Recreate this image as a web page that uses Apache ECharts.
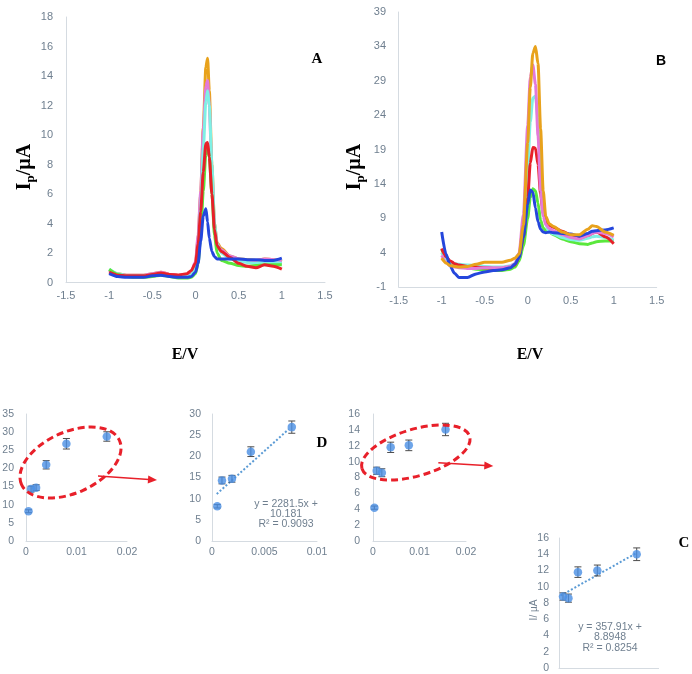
<!DOCTYPE html>
<html><head><meta charset="utf-8">
<script src="https://cdn.jsdelivr.net/npm/echarts@6/dist/echarts.min.js"></script>
<style>html,body{margin:0;padding:0;background:#fff}#c{width:692px;height:674px}</style>
</head><body><div id="c"></div>
<script>
// ---- Panel A (potential V vs current µA)
const aX = [-1,-0.9,-0.8,-0.7,-0.6,-0.5,-0.4,-0.3,-0.2,-0.1,-0.05,0,0.03,0.06,0.09,0.12,0.14,0.16,0.19,0.22,0.25,0.3,0.4,0.5,0.6,0.7,0.8,0.9,1];
const aOrange = [0.8,0.6,0.5,0.5,0.5,0.6,0.7,0.55,0.5,0.55,0.7,1.3,3.0,6.0,10.5,14.6,15.2,13,8,4.0,2.7,2.3,1.8,1.6,1.55,1.5,1.6,1.55,1.4];
const aPink   = [0.8,0.55,0.5,0.5,0.5,0.6,0.7,0.55,0.5,0.55,0.75,1.4,3.2,6.2,10.3,13.3,13.7,12,7.5,3.8,2.6,2.2,1.8,1.6,1.5,1.5,1.6,1.55,1.4];
const aCyan   = [0.9,0.6,0.45,0.45,0.45,0.5,0.55,0.45,0.4,0.4,0.5,1.0,2.4,5,9,12.3,13,12,8,4,2.6,2.0,1.6,1.45,1.35,1.3,1.4,1.35,1.3];
const aGreen  = [0.9,0.55,0.4,0.35,0.35,0.4,0.5,0.4,0.3,0.3,0.35,0.6,1.3,3.2,6.2,8.7,9.2,8.5,6,3.2,2.0,1.5,1.3,1.15,1.1,1.15,1.2,1.2,1.2];
const aRed    = [0.7,0.5,0.45,0.45,0.45,0.55,0.65,0.55,0.5,0.6,0.8,1.3,2.6,4.8,7.5,9.4,9.5,8.5,6,3.6,2.5,2.1,1.7,1.3,1.1,1.0,1.2,1.1,0.9];
const aBlue   = [0.6,0.4,0.35,0.35,0.35,0.45,0.5,0.4,0.35,0.35,0.4,0.7,1.3,2.8,4.5,5.0,4.1,3.0,2.1,1.75,1.6,1.6,1.6,1.6,1.55,1.55,1.5,1.5,1.65];
// ---- Panel B
const bX = [-1,-0.95,-0.9,-0.85,-0.8,-0.7,-0.6,-0.5,-0.4,-0.3,-0.2,-0.15,-0.1,-0.05,0,0.03,0.06,0.09,0.12,0.15,0.18,0.21,0.25,0.3,0.4,0.5,0.6,0.7,0.75,0.8,0.9,1];
const bOrange = [3.2,2.5,2.1,2.0,1.9,2.0,2.3,2.6,2.6,2.6,2.9,3.2,3.8,8,20,28,33,34,31.5,22,13,9.3,8.2,7.8,7.0,6.6,6.6,7.4,7.9,7.8,7.0,6.5];
const bPink   = [3.6,2.6,2.1,1.9,1.8,1.7,1.7,1.8,1.8,1.8,2.0,2.4,4,9.5,22.5,29.5,31.3,28.5,21,13,9.3,8.1,7.5,7.2,6.6,6.2,6.0,6.5,6.8,7.0,6.8,6.3];
const bCyan   = [4.0,3.0,2.6,2.4,2.3,2.2,2.1,2.0,1.9,1.9,2.1,2.4,3.3,7,16,23,26.5,26.8,23.5,16.5,10.5,8,7.0,6.7,6.2,5.9,5.8,6.1,6.3,6.4,6.2,5.8];
const bGreen  = [4.5,3.3,2.6,2.2,2.0,1.8,1.6,1.5,1.4,1.4,1.6,1.9,2.8,5,9,12,13.3,13,11.2,8.7,7.6,7.2,7.0,6.6,6.0,5.6,5.3,5.2,5.4,5.6,5.7,5.7];
const bRed    = [4.6,3.4,2.8,2.4,2.2,2.0,1.9,1.8,1.7,1.7,1.9,2.2,3.3,6.2,12,17,19.3,19.2,16.8,12.5,9.7,8.7,8.0,7.7,7.1,6.6,6.1,6.5,6.8,7.0,6.3,5.3];
const bBlue   = [7.0,3.8,2.0,1.0,0.4,0.4,0.9,1.2,1.4,1.5,1.8,2.3,3.3,6.3,11,13.1,12.8,10.5,8.5,7.4,7.0,6.9,7.0,6.9,6.8,6.7,6.4,6.8,7.1,7.2,7.3,7.6];
// ---- Calibration panels
const c1X = [0.0005,0.001,0.002,0.004,0.008,0.016];
const c1Y = [8.2,14.3,14.7,21.0,26.8,28.8];
const c1Err = [0.4,0.8,0.8,1.15,1.45,1.3];
const dX = [0.0005,0.00095,0.0019,0.0037,0.0076];
const dY = [8.2,14.3,14.7,21.1,26.9];
const dErr = [0.4,0.8,0.8,1.15,1.45];
const dTrend = [[0.00045,11.1],[0.0073,26.4]];
const c2X = [0.0003,0.0008,0.0019,0.0038,0.0077,0.0156];
const c2Y = [4.2,8.85,8.6,11.8,12.05,14.05];
const c2Err = [0.2,0.45,0.5,0.65,0.67,0.78];
const c3X = [0.0008,0.0019,0.0038,0.0077,0.0156];
const c3Y = [8.8,8.6,11.8,12.0,14.0];
const c3Err = [0.45,0.5,0.65,0.67,0.78];
const c3Trend = [[0.0003,8.9],[0.0157,14.2]];

const zip = (xs, ys) => xs.map((x,i)=>[x, ys[i]]);
const LBL = '#6f7f8f', AXC = '#d5dbe1', FONT = 'Liberation Sans';
const colors = {orange:'#e8a21c', pink:'#e37ad9', cyan:'#7ff0e4', green:'#5ae83c', red:'#e8202a', blue:'#2446dc'};

function vAxis(grid, min, max, interval, fs, margin, showLabel=true){
  return {type:'value', gridIndex:grid, min, max, interval,
    axisLine:{show:true, onZero:false, lineStyle:{color:AXC, width:1}},
    axisTick:{show:false}, splitLine:{show:false},
    axisLabel:{show:showLabel, color:LBL, fontSize:fs, fontFamily:FONT, margin}};
}
const grids = [
  {left:66, top:17, width:259, height:265.5},
  {left:398.7, top:12, width:258, height:275},
  {left:26, top:414, width:101, height:127},
  {left:212, top:414, width:105, height:127},
  {left:373, top:414, width:93, height:127},
  {left:559, top:538, width:99.6, height:130}
].map(g => Object.assign(g, {outerBoundsMode:'none', containLabel:false}));

const xAxes = [
  vAxis(0,-1.5,1.5,0.5,11,8), vAxis(1,-1.5,1.5,0.5,11,8),
  vAxis(2,0,0.02,0.01,10.5,6), vAxis(3,0,0.01,0.005,10.5,6),
  vAxis(4,0,0.02,0.01,10.5,6), vAxis(5,0,0.02,0.01,10.5,6,false)
];
const yAxes = [
  vAxis(0,0,18,2,11,13), vAxis(1,-1,39,5,11,12.7),
  vAxis(2,0,35,5,10.5,12), vAxis(3,0,30,5,10.5,11),
  vAxis(4,0,16,2,10.5,13), vAxis(5,0,16,2,10.5,10)
];

function curve(idx, xs, ys, color){
  return {type:'line', xAxisIndex:idx, yAxisIndex:idx, data:zip(xs,ys), showSymbol:false,
    smooth:0.25, smoothMonotone:'x', lineStyle:{color, width:3}, itemStyle:{color}, silent:true, z:2};
}
function scatter(idx, xs, ys){
  return {type:'scatter', xAxisIndex:idx, yAxisIndex:idx, data:zip(xs,ys), symbolSize:8.5,
    itemStyle:{color:'#4a8fe3'}, z:4};
}
function errbars(idx, xs, ys, es){
  return {type:'custom', xAxisIndex:idx, yAxisIndex:idx, z:3,
    data: xs.map((x,i)=>[x, ys[i]-es[i], ys[i]+es[i]]),
    renderItem:(params, api)=>{
      const lo = api.coord([api.value(0), api.value(1)]);
      const hi = api.coord([api.value(0), api.value(2)]);
      const w = 3.5, st = {stroke:'#4d4d4d', lineWidth:1};
      return {type:'group', children:[
        {type:'line', shape:{x1:lo[0],y1:lo[1],x2:hi[0],y2:hi[1]}, style:st},
        {type:'line', shape:{x1:lo[0]-w,y1:lo[1],x2:lo[0]+w,y2:lo[1]}, style:st},
        {type:'line', shape:{x1:hi[0]-w,y1:hi[1],x2:hi[0]+w,y2:hi[1]}, style:st}
      ]};
    }};
}
function trend(idx, pts){
  return {type:'line', xAxisIndex:idx, yAxisIndex:idx, data:pts, showSymbol:false,
    lineStyle:{color:'#5b9bd5', width:2, type:[2,2]}, z:2};
}

const series = [
  curve(0,aX,aOrange,colors.orange), curve(0,aX,aPink,colors.pink), curve(0,aX,aCyan,colors.cyan),
  curve(0,aX,aGreen,colors.green), curve(0,aX,aRed,colors.red), curve(0,aX,aBlue,colors.blue),
  curve(1,bX,bGreen,colors.green), curve(1,bX,bCyan,colors.cyan), curve(1,bX,bRed,colors.red),
  curve(1,bX,bPink,colors.pink), curve(1,bX,bBlue,colors.blue), curve(1,bX,bOrange,colors.orange),
  errbars(2,c1X,c1Y,c1Err), scatter(2,c1X,c1Y),
  trend(3,dTrend), errbars(3,dX,dY,dErr), scatter(3,dX,dY),
  errbars(4,c2X,c2Y,c2Err), scatter(4,c2X,c2Y),
  trend(5,c3Trend), errbars(5,c3X,c3Y,c3Err), scatter(5,c3X,c3Y)
];

const serif = 'Liberation Serif';
const ipRich = {a:{fontSize:20, fontWeight:'bold', fontFamily:serif, fill:'#000', lineHeight:24},
                b:{fontSize:13, fontWeight:'bold', fontFamily:serif, fill:'#000', verticalAlign:'bottom', lineHeight:24}};
function txt(x,y,text,fs,opts={}){
  return {type:'text', x, y, rotation:opts.rot||0, z:10,
    style:Object.assign({text, fontSize:fs, fontFamily:opts.ff||serif, fontWeight:opts.fw||'bold', fill:opts.fill||'#000', align:'center', verticalAlign:'middle'}, opts.style||{})};
}
const red = '#e8202a';
const graphic = [
  txt(25,167,'{a|I}{b|p}{a|/µA}',20,{rot:Math.PI/2, style:{rich:ipRich}}),
  txt(355,167,'{a|I}{b|p}{a|/µA}',20,{rot:Math.PI/2, style:{rich:ipRich}}),
  txt(317,59,'A',15), txt(661,61,'B',14,{ff:'Liberation Sans'}),
  txt(185,355,'E/V',16), txt(530,355,'E/V',16),
  txt(322,443,'D',15), txt(684,543,'C',15),
  txt(286,504,'y = 2281.5x +',10.5,{fw:'normal', fill:LBL, ff:FONT}),
  txt(286,514,'10.181',10.5,{fw:'normal', fill:LBL, ff:FONT}),
  txt(286,524,'R² = 0.9093',10.5,{fw:'normal', fill:LBL, ff:FONT}),
  txt(610,627,'y = 357.91x +',10.5,{fw:'normal', fill:LBL, ff:FONT}),
  txt(610,637.5,'8.8948',10.5,{fw:'normal', fill:LBL, ff:FONT}),
  txt(610,648,'R² = 0.8254',10.5,{fw:'normal', fill:LBL, ff:FONT}),
  txt(534,610,'I/ µA',10,{rot:Math.PI/2, fw:'normal', fill:LBL, ff:FONT}),
  {type:'ellipse', x:70.5, y:462.5, rotation:0.424, z:10, shape:{cx:0,cy:0,rx:53.7,ry:30.5},
   style:{fill:null, stroke:red, lineWidth:3, lineDash:[7,4]}},
  {type:'ellipse', x:415.8, y:452.5, rotation:0.29, z:10, shape:{cx:0,cy:0,rx:56.2,ry:23.3},
   style:{fill:null, stroke:red, lineWidth:3, lineDash:[7,4]}},
  {type:'line', z:10, shape:{x1:98,y1:476,x2:149,y2:479.4}, style:{stroke:red, lineWidth:1.5}},
  {type:'polygon', z:10, shape:{points:[[157,480],[148.3,475.4],[147.7,483.4]]}, style:{fill:red}},
  {type:'line', z:10, shape:{x1:438.3,y1:462.7,x2:485,y2:465.5}, style:{stroke:red, lineWidth:1.5}},
  {type:'polygon', z:10, shape:{points:[[493.3,466],[484.5,461.5],[484.1,469.5]]}, style:{fill:red}}
];

const chart = echarts.init(document.getElementById('c'), null, {renderer:'canvas'});
chart.setOption({animation:false, backgroundColor:'#fff', grid:grids, xAxis:xAxes, yAxis:yAxes, series, graphic});
</script></body></html>
